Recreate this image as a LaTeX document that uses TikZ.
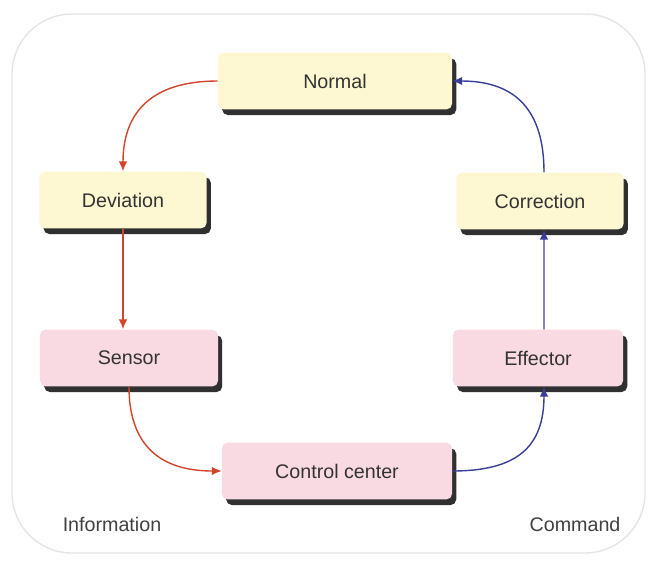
\documentclass[tikz,border=0pt]{standalone}
\usepackage{fontspec}
\setmainfont{Liberation Sans}
\usetikzlibrary{shadows,arrows.meta}
\definecolor{stageyellow}{HTML}{FDF8D2}
\definecolor{stagepink}{HTML}{F9DAE3}
\definecolor{infored}{HTML}{D2452C}
\definecolor{cmdblue}{HTML}{3A3E98}
\begin{document}
\begin{tikzpicture}[x=0.025cm,y=-0.025cm,
    stage/.style={rectangle,rounded corners=4pt,minimum height=1.42cm,
      font=\fontsize{14}{16}\selectfont,text=black!80,
      drop shadow={shadow xshift=3pt,shadow yshift=-4pt,fill=black!90,opacity=.9}},
    yellowstage/.style={stage,fill=stageyellow},
    pinkstage/.style={stage,fill=stagepink},
    infoarrow/.style={draw=infored,line width=1pt,-{Latex[length=7pt,width=6pt]}},
    cmdarrow/.style={draw=cmdblue,line width=1pt,-{Latex[length=7pt,width=6pt]}}]
    \useasboundingbox (0,0) rectangle (656,560);

    % Frame
    \draw[gray!20,line width=1pt,rounded corners=1.5cm] (12,14) rectangle (645,553);

    % Stages
    \node (normal) at (335,81) [yellowstage,minimum width=5.85cm] {Normal};
    \node (deviation) at (123,200) [yellowstage,minimum width=4.18cm] {Deviation};
    \node (sensor) at (129,358) [pinkstage,minimum width=4.45cm] {Sensor};
    \node (control) at (337,471) [pinkstage,minimum width=5.75cm] {Control center};
    \node (effector) at (538,358) [pinkstage,minimum width=4.25cm] {Effector};
    \node (correction) at (540,201) [yellowstage,minimum width=4.18cm] {Correction};

    % Information side
    \draw[infoarrow] (normal.west) .. controls +(-65,0) and +(0,-60) .. (deviation.north);
    \draw[infoarrow] (deviation.south) -- (sensor.north -| deviation.south);
    \draw[infoarrow] (sensor.south) .. controls +(0,60) and +(-60,0) .. (control.west);

    % Command side
    \draw[cmdarrow] (control.east) .. controls +(65,0) and +(0,60) .. ([xshift=.15cm]effector.south);
    \draw[cmdarrow] ([xshift=.15cm]effector.north) -- ([xshift=.1cm]correction.south);
    \draw[cmdarrow] ([xshift=.1cm]correction.north) .. controls +(0,-60) and +(65,0) .. (normal.east);

    % Labels
    \node (information) at (112,524) [font=\fontsize{14}{16}\selectfont,text=black!75] {Information};
    \node (command) at (575,524) [font=\fontsize{14}{16}\selectfont,text=black!75] {Command};
  \end{tikzpicture}
\end{document}
